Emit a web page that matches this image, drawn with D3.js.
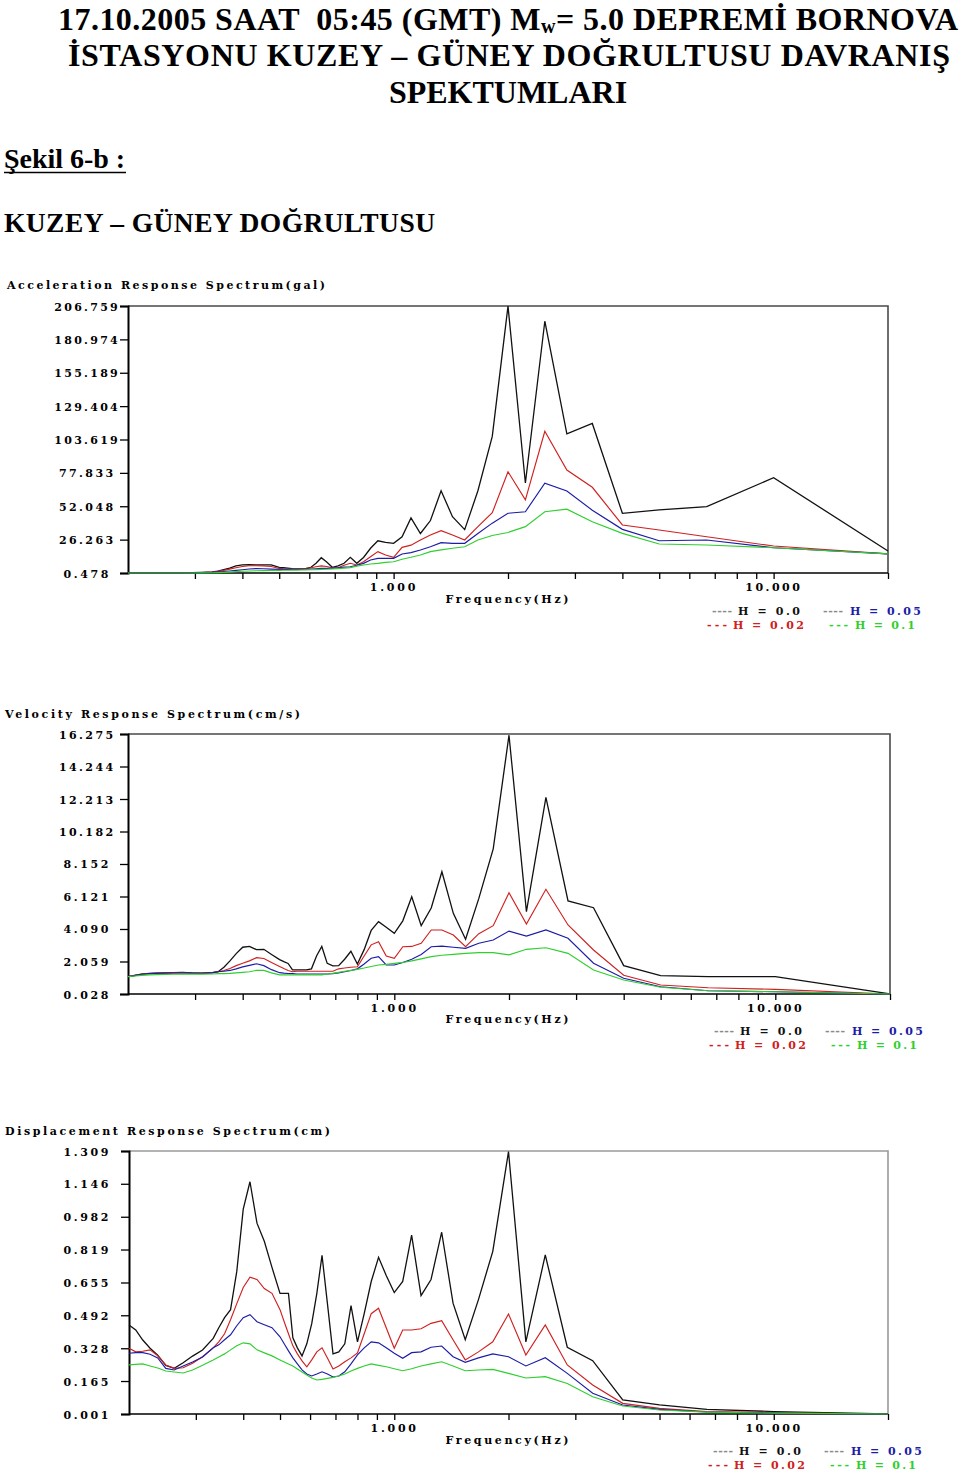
<!DOCTYPE html>
<html><head><meta charset="utf-8">
<script src="https://cdn.jsdelivr.net/npm/d3@7/dist/d3.min.js"></script>
<style>body{margin:0;background:#fff}svg{display:block}</style>
</head><body><svg id="c" width="960" height="1472"></svg>
<script>
// ---------------- DATA ----------------
// oscillator periods (s); frequency = 1 / period
const periods = [0.05,0.10,0.15,0.20,0.25,0.30,0.35,0.40,0.45,0.50,
 0.55,0.60,0.65,0.70,0.75,0.80,0.85,0.90,0.95,1.00,
 1.05,1.10,1.15,1.20,1.25,1.30,1.35,1.40,1.45,1.50,
 1.55,1.60,1.65,1.70,1.75,1.80,1.85,1.90,1.95,2.00,
 2.10,2.20,2.30,2.40,2.50,2.60,2.70,2.80,2.90,3.00,
 3.20,3.40,3.60,3.80,4.00,4.20,4.40,4.60,4.80,5.00];

const seriesNames = ["H = 0.0","H = 0.02","H = 0.05","H = 0.1"];

const accTicks  = ["0.478","26.263","52.048","77.833","103.619","129.404","155.189","180.974","206.759"];
const velTicks  = ["0.028","2.059","4.090","6.121","8.152","10.182","12.213","14.244","16.275"];
const dispTicks = ["0.001","0.165","0.328","0.492","0.655","0.819","0.982","1.146","1.309"];
const freqTicks = [0.3,0.4,0.5,0.6,0.7,0.8,0.9,1,2,3,4,5,6,7,8,9,10,20];
const freqLabelValues = [1,10];
const freqLabelTexts = ["1.000","10.000"];

// Acceleration (gal)
const accH00 = [17.5,74.1,51.7,49.2,46.6,116,108,195,70,206.7,
 106,64,34,44,64,41,31,43,28.5,23.4,
 24.2,25.4,19.6,12.5,8,12.6,8,6,4.9,9,
 12.3,8,4.9,3.8,3.6,3.6,3.8,4.2,4.6,4.9,
 6.7,6.7,6.7,6.9,6.7,6.0,4.3,3.1,2.0,1.3,
 1.0,0.7,0.478,0.478,0.478,0.478,0.478,0.478,0.478,0.478];
const accH02 = [15.2,21.3,28.5,33.7,37.6,66.7,80,110,57,78.7,
 47,36.3,26,29.8,33.2,29.8,26,22,20.3,12.6,
 14.4,17,13.1,9.2,6.7,8,6.5,4.5,4.5,5.5,
 6,5.3,4.5,4,3.8,3.6,3.6,3.6,3.8,4,
 5.5,6,6.1,6.1,5.5,4.5,3.5,2.5,1.8,1.2,
 0.9,0.6,0.478,0.478,0.478,0.478,0.478,0.478,0.478,0.478];
const accH05 = [15.2,20,26,25.4,34.2,49,63.8,69.8,47.8,46.6,
 39,31,23.4,23.4,23.9,20.8,18.3,16.2,15.2,11.8,
 11.8,11.8,10.5,7.9,6.5,5.3,5,4.5,4.2,4,
 4,3.8,3.6,3.5,3.4,3.3,3.3,3.3,3.3,3.3,
 3.5,3.8,3.9,3.6,3.0,2.5,2.0,1.6,1.3,1.0,
 0.8,0.6,0.478,0.478,0.478,0.478,0.478,0.478,0.478,0.478];
const accH10 = [15.2,20,22.1,22.9,31.1,40,49.8,47.8,36.3,31.8,
 29.5,26,20.8,19.6,18.3,17,14.4,12.6,11.1,9.2,
 8.7,7.9,7.4,6.7,5.8,4.6,4.2,3.9,3.6,3.4,
 3.3,3.1,3.0,2.9,2.8,2.7,2.7,2.6,2.6,2.5,
 2.4,2.3,2.2,2.0,1.8,1.5,1.2,1.0,0.8,0.7,
 0.55,0.478,0.478,0.478,0.478,0.478,0.478,0.478,0.478,0.478];

// Velocity (cm/s)
const velH00 = [0.03,1.11,1.11,1.17,1.8,5.42,5.84,12.32,5.17,16.2,
 9.1,6.0,3.45,5.07,7.67,5.4,4.3,6.1,4.6,3.82,
 4.2,4.55,4.0,2.8,1.9,2.7,2.2,1.8,1.78,1.94,
 3.0,2.4,1.6,1.53,1.53,1.53,1.53,1.94,2.05,2.18,
 2.5,2.82,2.8,3.0,2.95,2.55,2.1,1.7,1.42,1.36,
 1.33,1.34,1.38,1.36,1.34,1.33,1.31,1.27,1.19,1.11];
const velH02 = [0.03,0.32,0.42,0.59,1.2,2.78,4.34,6.57,4.4,6.36,
 4.3,3.8,2.98,3.71,4.03,4.03,3.2,3.0,2.98,2.26,
 2.4,3.3,3.1,2.4,1.73,1.7,1.65,1.6,1.45,1.45,
 1.45,1.45,1.45,1.45,1.45,1.45,1.42,1.5,1.62,1.75,
 2.0,2.25,2.3,2.1,1.95,1.8,1.62,1.5,1.42,1.36,
 1.33,1.34,1.36,1.35,1.34,1.33,1.31,1.27,1.19,1.11];
const velH05 = [0.03,0.17,0.23,0.48,1.01,1.95,3.51,4.03,3.65,3.96,
 3.4,3.2,2.88,2.95,3.02,2.98,2.5,2.2,2.0,1.84,
 1.84,2.36,2.26,1.9,1.6,1.5,1.42,1.35,1.3,1.28,
 1.28,1.28,1.28,1.28,1.28,1.28,1.3,1.31,1.33,1.36,
 1.55,1.8,1.92,1.82,1.72,1.6,1.5,1.45,1.42,1.36,
 1.32,1.33,1.35,1.34,1.33,1.32,1.3,1.26,1.18,1.11];
const velH10 = [0.03,0.17,0.23,0.45,0.9,1.53,2.57,2.92,2.82,2.47,
 2.61,2.61,2.57,2.5,2.45,2.36,2.22,2.1,2.0,1.94,
 1.88,1.84,1.75,1.65,1.57,1.5,1.45,1.38,1.32,1.28,
 1.22,1.22,1.22,1.22,1.22,1.22,1.22,1.22,1.22,1.22,
 1.35,1.5,1.5,1.42,1.38,1.35,1.32,1.3,1.3,1.28,
 1.27,1.27,1.27,1.26,1.25,1.24,1.22,1.19,1.15,1.11];

// Displacement (cm)
const dispH00 = [0.001,0.013,0.024,0.046,0.071,0.266,0.333,0.792,0.36,1.306,
 0.81,0.57,0.37,0.552,0.905,0.67,0.59,0.891,0.66,0.605,
 0.69,0.78,0.66,0.5,0.36,0.54,0.35,0.31,0.3,0.55,
 0.79,0.6,0.45,0.35,0.29,0.33,0.38,0.601,0.601,0.601,
 0.73,0.86,0.95,1.156,1.02,0.71,0.52,0.48,0.43,0.377,
 0.319,0.289,0.256,0.228,0.243,0.294,0.328,0.369,0.419,0.444];
const dispH02 = [0.001,0.008,0.013,0.029,0.054,0.145,0.245,0.444,0.294,0.498,
 0.36,0.31,0.27,0.37,0.465,0.452,0.425,0.419,0.419,0.328,
 0.43,0.527,0.5,0.4,0.305,0.28,0.261,0.24,0.225,0.28,
 0.33,0.31,0.27,0.236,0.265,0.3,0.34,0.4,0.46,0.52,
 0.601,0.625,0.67,0.681,0.63,0.55,0.47,0.4,0.36,0.33,
 0.286,0.253,0.231,0.228,0.245,0.29,0.32,0.313,0.31,0.328];
const dispH05 = [0.001,0.005,0.011,0.024,0.046,0.104,0.203,0.281,0.24,0.286,
 0.3,0.28,0.258,0.286,0.339,0.333,0.31,0.306,0.278,0.303,
 0.33,0.355,0.36,0.33,0.295,0.25,0.211,0.19,0.185,0.2,
 0.211,0.2,0.19,0.2,0.22,0.25,0.28,0.315,0.35,0.385,
 0.43,0.445,0.46,0.495,0.48,0.44,0.395,0.37,0.345,0.33,
 0.285,0.26,0.24,0.22,0.228,0.28,0.298,0.306,0.306,0.303];
const dispH10 = [0.001,0.005,0.01,0.021,0.041,0.087,0.153,0.187,0.18,0.203,
 0.223,0.22,0.216,0.24,0.261,0.25,0.24,0.226,0.216,0.226,
 0.236,0.243,0.25,0.24,0.228,0.215,0.2,0.19,0.183,0.178,
 0.173,0.17,0.18,0.195,0.21,0.225,0.24,0.25,0.26,0.27,
 0.29,0.305,0.32,0.35,0.355,0.34,0.32,0.3,0.285,0.27,
 0.243,0.22,0.205,0.21,0.215,0.23,0.24,0.25,0.248,0.245];

// ---------------- LAYOUT / STYLE ----------------
const seriesColors = ["#111111","#d02020","#1c1ca6","#2fcf2f"];
const legendDashColors = ["#8a8a8a","#d02020","#8a8a8a","#2fcf2f"];
const legendTextColors = ["#111111","#d02020","#1c1ca6","#2fcf2f"];

const charts = [
  {title:"Acceleration Response Spectrum(gal)", titleX:7, titleW:318, titleY:289,
   ticks:accTicks, series:[accH00,accH02,accH05,accH10],
   left:128, right:888, top:306, bottom:573, frame:"#4a4a4a",
   xLabY:591, freqY:603, legY:615, legDx:0},
  {title:"Velocity Response Spectrum(cm/s)", titleX:5, titleW:295, titleY:718,
   ticks:velTicks, series:[velH00,velH02,velH05,velH10],
   left:128, right:890, top:734, bottom:994, frame:"#4a4a4a",
   xLabY:1012, freqY:1023, legY:1035, legDx:2},
  {title:"Displacement Response Spectrum(cm)", titleX:5, titleW:325, titleY:1135,
   ticks:dispTicks, series:[dispH00,dispH02,dispH05,dispH10],
   left:129, right:888, top:1151, bottom:1414, frame:"#9a9a9a",
   xLabY:1432, freqY:1444, legY:1455, legDx:1}
];

const svg = d3.select("#c");
const chartFont = "'DejaVu Serif', serif";
const titleFont = "'Liberation Serif', 'Times New Roman', serif";

function fit(sel, w){ sel.attr("textLength", w).attr("lengthAdjust","spacing"); return sel; }

// ---------------- HEADER ----------------
const head = svg.append("g").attr("font-family", titleFont).attr("font-weight","bold").attr("fill","#000");
const l1 = head.append("text").attr("x",508).attr("y",30).attr("text-anchor","middle")
  .attr("font-size",32).style("white-space","pre");
l1.append("tspan").text("17.10.2005 SAAT  05:45 (GMT) M");
l1.append("tspan").attr("font-size",20).attr("dy",3).text("w");
l1.append("tspan").attr("dy",-3).text("= 5.0 DEPREMİ BORNOVA");
fit(l1, 900);
fit(head.append("text").attr("x",509).attr("y",66).attr("text-anchor","middle").attr("font-size",32)
  .text("İSTASYONU KUZEY – GÜNEY DOĞRULTUSU DAVRANIŞ"), 882);
head.append("text").attr("x",508).attr("y",103).attr("text-anchor","middle").attr("font-size",32)
  .text("SPEKTUMLARI");
fit(head.append("text").attr("x",4).attr("y",168).attr("font-size",28).text("Şekil 6-b :"), 121);
head.append("line").attr("x1",4).attr("x2",126).attr("y1",172.5).attr("y2",172.5)
  .attr("stroke","#000").attr("stroke-width",1.6);
fit(head.append("text").attr("x",4).attr("y",232).attr("font-size",27.5).text("KUZEY – GÜNEY DOĞRULTUSU"), 431);

// ---------------- CHARTS ----------------
charts.forEach(c => {
  const g = svg.append("g");
  const x = d3.scaleLog().domain([0.2, 20]).range([c.left, c.right]);
  const yvals = c.ticks.map(Number);
  const y = d3.scaleLinear().domain([yvals[0], yvals[yvals.length-1]]).range([c.bottom, c.top]);

  fit(g.append("text").attr("x", c.titleX).attr("y", c.titleY)
    .attr("font-family", chartFont).attr("font-weight","bold").attr("font-size",11)
    .text(c.title), c.titleW);

  g.append("path").attr("d", `M${c.left},${c.top}H${c.right}V${c.bottom}`)
    .attr("fill","none").attr("stroke", c.frame).attr("stroke-width",1.6);

  const ya = g.append("g").attr("transform", `translate(${c.left},0)`)
    .call(d3.axisLeft(y).tickValues(yvals).tickSize(8).tickFormat((d,i)=>c.ticks[i]));
  ya.select(".domain").attr("stroke","#000").attr("stroke-width",2);
  ya.selectAll(".tick line").attr("stroke","#000").attr("stroke-width",1.3);
  ya.selectAll(".tick text")
    .attr("x", 86 - c.left).attr("dy", null).attr("y", 4)
    .attr("text-anchor","middle").attr("font-family", chartFont).attr("font-weight","bold")
    .attr("font-size",11).attr("fill","#000")
    .each(function(d,i){ fit(d3.select(this), c.ticks[i].length*9.2 - 1); });

  const xa = g.append("g").attr("transform", `translate(0,${c.bottom})`)
    .call(d3.axisBottom(x).tickValues(freqTicks).tickSize(6).tickFormat(""));
  xa.select(".domain").attr("stroke","#000").attr("stroke-width",1.6).attr("d", `M${c.left},0H${c.right}`);
  xa.selectAll(".tick line").attr("stroke","#000").attr("stroke-width",1.3);

  freqLabelValues.forEach((v,i) => {
    fit(g.append("text").attr("x", x(v) - 1).attr("y", c.xLabY).attr("text-anchor","middle")
      .attr("font-family", chartFont).attr("font-weight","bold").attr("font-size",11)
      .text(freqLabelTexts[i]), freqLabelTexts[i].length*9.1);
  });
  fit(g.append("text").attr("x", 507).attr("y", c.freqY).attr("text-anchor","middle")
    .attr("font-family", chartFont).attr("font-weight","bold").attr("font-size",11)
    .text("Frequency(Hz)"), 123);

  const line = d3.line().x((d,i)=>x(1/periods[i])).y(d=>y(d));
  c.series.forEach((s,k) => {
    g.append("path").datum(s).attr("d", line).attr("fill","none")
      .attr("stroke", seriesColors[k]).attr("stroke-width", k===0 ? 1.3 : 1.15)
      .attr("stroke-linejoin","miter");
  });

  const leg = [
    {k:0, dx:712, tx:738, row:0, w:62, dw:20, dash:"----"},
    {k:2, dx:823, tx:850, row:0, w:71, dw:20, dash:"----"},
    {k:1, dx:707, tx:733, row:1, w:71, dw:20, dash:"---"},
    {k:3, dx:829, tx:855, row:1, w:60, dw:19, dash:"---"}
  ];
  leg.forEach(l => {
    const yy = c.legY + l.row*14;
    fit(g.append("text").attr("x", l.dx + c.legDx).attr("y", yy)
      .attr("font-family", chartFont).attr("font-weight","bold").attr("font-size",11)
      .attr("fill", legendDashColors[l.k]).text(l.dash), l.dw);
    fit(g.append("text").attr("x", l.tx + c.legDx).attr("y", yy)
      .attr("font-family", chartFont).attr("font-weight","bold").attr("font-size",11)
      .attr("fill", legendTextColors[l.k]).text(seriesNames[l.k]), l.w);
  });
});
</script>
</body></html>
